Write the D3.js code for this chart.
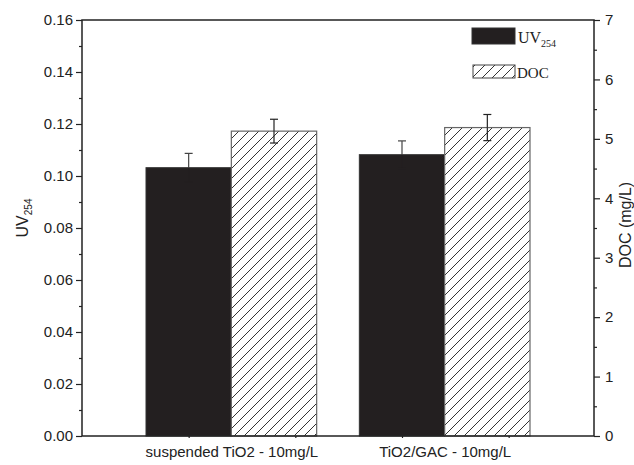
<!DOCTYPE html>
<html>
<head>
<meta charset="utf-8">
<script src="https://cdn.jsdelivr.net/npm/d3@7"></script>
<style>
html,body{margin:0;padding:0;background:#fff;}
svg{display:block;}
</style>
</head>
<body>
<svg id="chart" width="634" height="465"></svg>
<script>
const categories = ["suspended TiO2 - 10mg/L", "TiO2/GAC - 10mg/L"];
const categoryPos = [1, 2];
const uvValues = [0.1032, 0.1082];
const uvErrors = [0.0055, 0.0053];
const docValues = [5.13, 5.19];
const docErrors = [0.20, 0.22];
const leftTicks = [0, 0.02, 0.04, 0.06, 0.08, 0.10, 0.12, 0.14, 0.16];
const leftMinor = [0.01, 0.03, 0.05, 0.07, 0.09, 0.11, 0.13, 0.15];
const rightTicks = [0, 1, 2, 3, 4, 5, 6, 7];
const rightMinor = [0.5, 1.5, 2.5, 3.5, 4.5, 5.5, 6.5];
const bottomMinor = [0.8, 1.3, 1.8, 2.3];

const svg = d3.select("#chart");
const L = 82, R = 594, T = 20, B = 436;
const x = d3.scaleLinear().domain([0.3, 2.7]).range([L, R]);
const yL = d3.scaleLinear().domain([0, 0.16]).range([B, T]);
const yR = d3.scaleLinear().domain([0, 7]).range([B, T]);
const barW = 0.4;
const dark = "#231f20";
const axisCol = "#222";

// hatch pattern
const defs = svg.append("defs");
const pat = defs.append("pattern").attr("id", "hatch").attr("patternUnits", "userSpaceOnUse")
  .attr("width", 10).attr("height", 10);
pat.append("rect").attr("width", 10).attr("height", 10).attr("fill", "#fff");
pat.append("path").attr("d", "M-1,1 l2,-2 M0,10 l10,-10 M9,11 l2,-2")
  .attr("stroke", "#333").attr("stroke-width", 1);

// UV bars
svg.append("g").selectAll("rect").data(uvValues).join("rect")
  .attr("x", (d, i) => x(categoryPos[i] - barW))
  .attr("y", d => yL(d))
  .attr("width", x(barW) - x(0))
  .attr("height", d => B - yL(d))
  .attr("fill", dark).attr("stroke", "#333").attr("stroke-width", 1);

// DOC bars
svg.append("g").selectAll("rect").data(docValues).join("rect")
  .attr("x", (d, i) => x(categoryPos[i]))
  .attr("y", d => yR(d))
  .attr("width", x(barW) - x(0))
  .attr("height", d => B - yR(d))
  .attr("fill", "url(#hatch)").attr("stroke", "#666").attr("stroke-width", 1.2);

// error bars
function errBars(vals, errs, scale, offset, colUp, colDown) {
  const g = svg.append("g").attr("stroke-width", 1.2).attr("fill", "none");
  vals.forEach((v, i) => {
    const cx = x(categoryPos[i] + offset);
    const y1 = scale(v + errs[i]), y0 = scale(v - errs[i]), ym = scale(v);
    g.append("line").attr("x1", cx).attr("x2", cx).attr("y1", ym).attr("y2", y1).attr("stroke", colUp);
    g.append("line").attr("x1", cx - 4).attr("x2", cx + 4).attr("y1", y1).attr("y2", y1).attr("stroke", colUp);
    g.append("line").attr("x1", cx).attr("x2", cx).attr("y1", ym).attr("y2", y0).attr("stroke", colDown);
    g.append("line").attr("x1", cx - 4).attr("x2", cx + 4).attr("y1", y0).attr("y2", y0).attr("stroke", colDown);
  });
}
errBars(uvValues, uvErrors, yL, -barW / 2, "#444", dark);
errBars(docValues, docErrors, yR, barW / 2, "#222", "#222");

// frame
svg.append("rect").attr("x", L).attr("y", T).attr("width", R - L).attr("height", B - T)
  .attr("fill", "none").attr("stroke", axisCol).attr("stroke-width", 1.5);

const fontSans = "Liberation Sans, Arial, sans-serif";
const fontSerif = "Liberation Serif, Times New Roman, serif";

// left axis
const gl = svg.append("g").attr("transform", `translate(${L},0)`)
  .call(d3.axisLeft(yL).tickValues(leftTicks).tickFormat(d3.format(".2f")).tickSize(6).tickPadding(3));
const gl2 = svg.append("g").attr("transform", `translate(${L},0)`)
  .call(d3.axisLeft(yL).tickValues(leftMinor).tickFormat("").tickSize(3));
// right axis
const gr = svg.append("g").attr("transform", `translate(${R},0)`)
  .call(d3.axisRight(yR).tickValues(rightTicks).tickFormat(d3.format("d")).tickSize(6).tickPadding(5));
const gr2 = svg.append("g").attr("transform", `translate(${R},0)`)
  .call(d3.axisRight(yR).tickValues(rightMinor).tickFormat("").tickSize(3));
// bottom axis
const gb = svg.append("g").attr("transform", `translate(0,${B})`)
  .call(d3.axisBottom(x).tickValues(categoryPos).tickFormat((d, i) => categories[i]).tickSize(0).tickPadding(10));
const gb2 = svg.append("g").attr("transform", `translate(0,${B})`)
  .call(d3.axisBottom(x).tickValues(bottomMinor).tickFormat("").tickSize(2));

[gl, gl2, gr, gr2, gb, gb2].forEach(g => {
  g.select(".domain").remove();
  g.selectAll("line").attr("stroke", axisCol).attr("stroke-width", 1.2);
  g.selectAll("text").attr("fill", "#222").attr("font-family", fontSans);
});
gl.selectAll("text").attr("font-size", 15);
gr.selectAll("text").attr("font-size", 15);
gb.selectAll("text").attr("font-size", 15);

// axis titles
const tl = svg.append("text").attr("transform", "translate(28,218) rotate(-90)")
  .attr("text-anchor", "middle").attr("font-family", fontSans).attr("font-size", 16).attr("fill", "#222");
tl.append("tspan").text("UV");
tl.append("tspan").attr("font-size", 10).attr("dy", 4).text("254");

svg.append("text").attr("transform", "translate(631,225) rotate(-90)")
  .attr("text-anchor", "middle").attr("font-family", fontSans).attr("font-size", 16).attr("fill", "#222")
  .text("DOC (mg/L)");

// legend
const legend = svg.append("g");
legend.append("rect").attr("x", 472).attr("y", 28).attr("width", 43).attr("height", 16)
  .attr("fill", dark).attr("stroke", "#333");
const lt1 = legend.append("text").attr("x", 518).attr("y", 43).attr("font-family", fontSerif)
  .attr("font-size", 16).attr("fill", "#222");
lt1.append("tspan").text("UV");
lt1.append("tspan").attr("font-size", 10).attr("dy", 4).text("254");
legend.append("rect").attr("x", 473).attr("y", 65).attr("width", 42).attr("height", 13)
  .attr("fill", "url(#hatch)").attr("stroke", "#444");
legend.append("text").attr("x", 517).attr("y", 78).attr("font-family", fontSerif)
  .attr("font-size", 15).attr("fill", "#222").text("DOC");
</script>
</body>
</html>
